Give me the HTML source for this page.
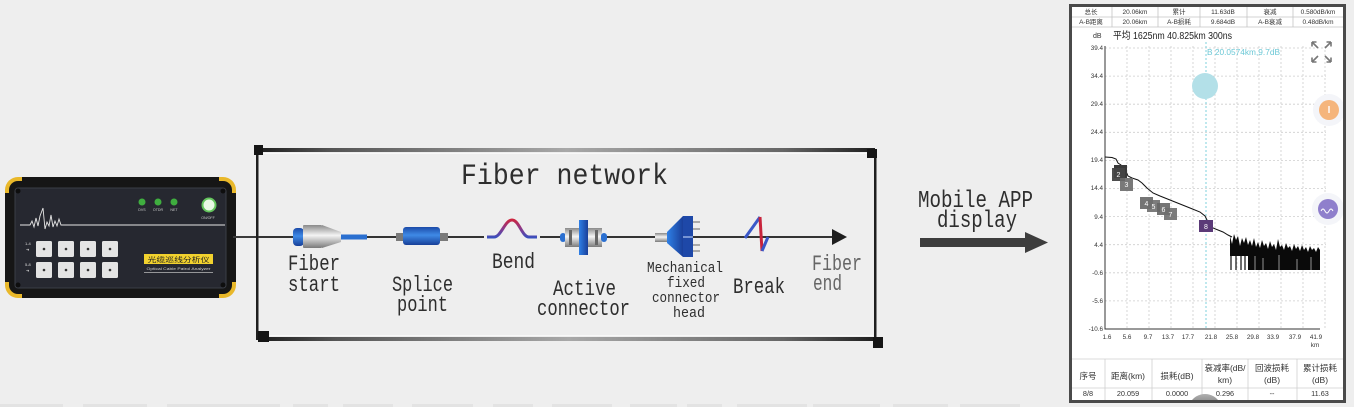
<!DOCTYPE html>
<html><head><meta charset="utf-8">
<style>
html,body{margin:0;padding:0;background:#eeeeee;width:1354px;height:407px;overflow:hidden;}
svg{display:block;}
.m{font-family:"Liberation Mono",monospace;fill:#2e2e2e;}
.p{font-family:"Liberation Sans","Noto Sans CJK SC",sans-serif;}
</style></head><body>
<svg width="1354" height="407" viewBox="0 0 1354 407" xmlns="http://www.w3.org/2000/svg" overflow="hidden">
<defs>
 <linearGradient id="frameH" x1="0" x2="1" y1="0" y2="0">
  <stop offset="0" stop-color="#1e1e1e"/>
  <stop offset="0.12" stop-color="#555"/>
  <stop offset="0.5" stop-color="#a8a8a8"/>
  <stop offset="0.85" stop-color="#666"/>
  <stop offset="1" stop-color="#1e1e1e"/>
 </linearGradient>
 <linearGradient id="silver" x1="0" x2="0" y1="0" y2="1">
  <stop offset="0" stop-color="#8a8a8a"/>
  <stop offset="0.45" stop-color="#f4f4f4"/>
  <stop offset="1" stop-color="#7a7a7a"/>
 </linearGradient>
 <linearGradient id="blueV" x1="0" x2="0" y1="0" y2="1">
  <stop offset="0" stop-color="#1b4aa8"/>
  <stop offset="0.45" stop-color="#3f8ae6"/>
  <stop offset="1" stop-color="#173f98"/>
 </linearGradient>
 <linearGradient id="blueH" x1="0" x2="1" y1="0" y2="0">
  <stop offset="0" stop-color="#2f80e6"/>
  <stop offset="1" stop-color="#1a3f9a"/>
 </linearGradient>
 <linearGradient id="bend" gradientUnits="userSpaceOnUse" x1="0" y1="219" x2="0" y2="238">
  <stop offset="0" stop-color="#d0243c"/>
  <stop offset="0.5" stop-color="#8a3a8a"/>
  <stop offset="1" stop-color="#3650c0"/>
 </linearGradient>
 <linearGradient id="blob" x1="0" x2="0" y1="0" y2="1">
  <stop offset="0" stop-color="#b0b0b0"/>
  <stop offset="1" stop-color="#8a8a8a"/>
 </linearGradient>
</defs>

<!-- faint bottom strip text remnants -->
<g fill="#e3e3e3">
 <rect x="0" y="404" width="63" height="3"/><rect x="83" y="404" width="64" height="3"/>
 <rect x="167" y="404" width="113" height="3"/><rect x="293" y="404" width="35" height="3"/>
 <rect x="343" y="404" width="50" height="3"/><rect x="412" y="404" width="61" height="3"/>
 <rect x="493" y="404" width="40" height="3"/><rect x="552" y="404" width="60" height="3"/>
 <rect x="630" y="404" width="47" height="3"/><rect x="687" y="404" width="35" height="3"/>
 <rect x="737" y="404" width="70" height="3"/><rect x="813" y="404" width="67" height="3"/>
 <rect x="893" y="404" width="55" height="3"/><rect x="960" y="404" width="60" height="3"/>
</g>

<!-- ===== Device ===== -->
<g>
 <rect x="5" y="177" width="231" height="121" rx="13" fill="#e9b82a"/>
 <rect x="22" y="177" width="197" height="121" fill="#161616"/>
 <rect x="5" y="193" width="231" height="89" fill="#161616"/>
 <rect x="9" y="181" width="223" height="113" rx="9" fill="#161616"/>
 <rect x="15" y="188" width="211" height="100" rx="3" fill="#262830" stroke="#3b3e46" stroke-width="1"/>
 <circle cx="18" cy="191" r="2.5" fill="#0e0e0e"/><circle cx="223" cy="191" r="2.5" fill="#0e0e0e"/>
 <circle cx="18" cy="285" r="2.5" fill="#0e0e0e"/><circle cx="223" cy="285" r="2.5" fill="#0e0e0e"/>
 <circle cx="142" cy="202" r="3.5" fill="#3fae3f"/><circle cx="158" cy="202" r="3.5" fill="#3fae3f"/><circle cx="174" cy="202" r="3.5" fill="#3fae3f"/>
 <g class="p" font-size="3.6" fill="#c8c8c8" text-anchor="middle">
  <text x="142" y="211">DVS</text><text x="158" y="211">OTDR</text><text x="174" y="211">NET</text>
  <text x="208" y="219">ON/OFF</text>
 </g>
 <circle cx="209" cy="205" r="6.5" fill="#e8f8e4" stroke="#63c45c" stroke-width="2"/>
 <polyline points="20,225 30,225 32,221 34,227 36,218 38,226 40,216 43,208 45,229 47,222 49,226 51,215 53,227 55,221 57,226 59,219 61,225 225,225" fill="none" stroke="#e6e6e6" stroke-width="0.9"/>
 <g fill="#e4e4e4">
  <rect x="36" y="241" width="16" height="16" rx="1.5"/><rect x="58" y="241" width="16" height="16" rx="1.5"/>
  <rect x="80" y="241" width="16" height="16" rx="1.5"/><rect x="102" y="241" width="16" height="16" rx="1.5"/>
  <rect x="36" y="262" width="16" height="16" rx="1.5"/><rect x="58" y="262" width="16" height="16" rx="1.5"/>
  <rect x="80" y="262" width="16" height="16" rx="1.5"/><rect x="102" y="262" width="16" height="16" rx="1.5"/>
 </g>
 <g fill="#333">
  <circle cx="44" cy="249" r="1.3"/><circle cx="66" cy="249" r="1.3"/><circle cx="88" cy="249" r="1.3"/><circle cx="110" cy="249" r="1.3"/>
  <circle cx="44" cy="270" r="1.3"/><circle cx="66" cy="270" r="1.3"/><circle cx="88" cy="270" r="1.3"/><circle cx="110" cy="270" r="1.3"/>
 </g>
 <g class="p" font-size="4" fill="#ddd">
  <text x="25" y="245">1-4</text><text x="26" y="251">➜</text>
  <text x="25" y="266">5-8</text><text x="26" y="272">➜</text>
 </g>
 <rect x="144" y="254" width="69" height="10" fill="#f2d22e"/>
 <text x="178.5" y="262" class="p" font-size="7" fill="#222" text-anchor="middle" textLength="62" lengthAdjust="spacingAndGlyphs">光缆巡线分析仪</text>
 <text x="178.5" y="270" class="p" font-size="3.8" fill="#d0d0d0" text-anchor="middle" textLength="64" lengthAdjust="spacingAndGlyphs">Optical Cable Patrol Analyzer</text>
 <line x1="144" y1="272.5" x2="213" y2="272.5" stroke="#bbb" stroke-width="0.7"/>
</g>
<line x1="233" y1="237" x2="258" y2="237" stroke="#3a3a3a" stroke-width="2"/>

<!-- ===== Fiber network box ===== -->
<g>
 <rect x="258" y="148" width="617" height="4" fill="url(#frameH)"/>
 <rect x="262" y="337" width="613" height="4" fill="url(#frameH)"/>
 <line x1="262" y1="153.5" x2="873" y2="153.5" stroke="#f8f8f8" stroke-width="1"/>
 <line x1="262" y1="335.5" x2="873" y2="335.5" stroke="#f8f8f8" stroke-width="1"/>
 <rect x="256" y="148" width="2.5" height="192" fill="#1e1e1e"/>
 <rect x="874" y="150" width="2.5" height="195" fill="#1e1e1e"/>
 <rect x="254" y="145" width="9" height="10" fill="#151515"/>
 <rect x="258" y="331" width="11" height="11" fill="#151515"/>
 <rect x="867" y="149" width="10" height="9" fill="#151515"/>
 <rect x="873" y="337" width="10" height="11" fill="#151515"/>
</g>
<text x="461" y="184" class="m" font-size="30" fill="#454545" textLength="207" lengthAdjust="spacingAndGlyphs">Fiber network</text>

<!-- fiber line -->
<line x1="258" y1="237" x2="836" y2="237" stroke="#333" stroke-width="2"/>
<polygon points="832,229 847,237 832,245" fill="#1e1e1e"/>

<!-- fiber start -->
<rect x="340" y="234.5" width="27" height="5" fill="#2a6fd0"/>
<rect x="293" y="228" width="11" height="18" rx="4" fill="url(#blueV)"/>
<rect x="303" y="225" width="19" height="23" rx="1" fill="url(#silver)"/>
<polygon points="322,225 341,232 341,242 322,248" fill="url(#silver)"/>

<!-- splice -->
<rect x="396" y="233" width="8" height="8" fill="#7a7a7a"/>
<rect x="440" y="233" width="8" height="8" fill="#7a7a7a"/>
<rect x="403" y="227" width="37" height="18" rx="3" fill="url(#blueV)"/>

<!-- bend -->
<rect x="484" y="232" width="56" height="9" fill="#eeeeee"/>
<path d="M487,237 L494,237 C501,237 505,220 512,220 C519,220 522,237 529,237 L537,237" fill="none" stroke="url(#bend)" stroke-width="3"/>

<!-- active connector -->
<rect x="560" y="233" width="6" height="9" rx="3" fill="#2a6fd0"/>
<rect x="565" y="228" width="14" height="19" fill="url(#silver)"/>
<rect x="569" y="230" width="3" height="15" fill="#666"/>
<rect x="579" y="220" width="9" height="35" fill="url(#blueH)"/>
<rect x="588" y="228" width="14" height="19" fill="url(#silver)"/>
<rect x="595" y="230" width="3" height="15" fill="#666"/>
<rect x="601" y="233" width="6" height="9" rx="3" fill="#2a6fd0"/>

<!-- mechanical connector -->
<rect x="655" y="233" width="12" height="9" fill="url(#silver)"/>
<polygon points="667,232 683,216 683,257 667,243" fill="url(#blueH)"/>
<rect x="683" y="216" width="10" height="41" fill="#1e48a8"/>
<line x1="683" y1="237" x2="693" y2="237" stroke="#cfe0ff" stroke-width="1"/>
<g stroke="#999" stroke-width="1.6">
 <line x1="693" y1="222" x2="700" y2="222"/><line x1="693" y1="229" x2="700" y2="229"/>
 <line x1="693" y1="245" x2="700" y2="245"/><line x1="693" y1="251" x2="700" y2="251"/>
</g>

<!-- break -->
<line x1="745" y1="238" x2="760" y2="217" stroke="#3a58c8" stroke-width="3"/>
<line x1="760" y1="217" x2="762" y2="251" stroke="#c8243c" stroke-width="3"/>
<line x1="762" y1="251" x2="768" y2="237" stroke="#3a58c8" stroke-width="3"/>

<!-- labels -->
<g class="m" font-size="22">
 <text x="288" y="270" textLength="52" lengthAdjust="spacingAndGlyphs">Fiber</text>
 <text x="288" y="291" textLength="52" lengthAdjust="spacingAndGlyphs">start</text>
 <text x="392" y="291" textLength="61" lengthAdjust="spacingAndGlyphs">Splice</text>
 <text x="397" y="311" textLength="51" lengthAdjust="spacingAndGlyphs">point</text>
 <text x="492" y="268" textLength="43" lengthAdjust="spacingAndGlyphs">Bend</text>
 <text x="553" y="295" textLength="63" lengthAdjust="spacingAndGlyphs">Active</text>
 <text x="537" y="315" textLength="93" lengthAdjust="spacingAndGlyphs">connector</text>
 <text x="733" y="293" textLength="52" lengthAdjust="spacingAndGlyphs">Break</text>
 <text x="812" y="270" textLength="50" lengthAdjust="spacingAndGlyphs" fill="#666">Fiber</text>
 <text x="813" y="290" textLength="29" lengthAdjust="spacingAndGlyphs" fill="#666">end</text>
</g>
<g class="m" font-size="15">
 <text x="647" y="272" textLength="76" lengthAdjust="spacingAndGlyphs">Mechanical</text>
 <text x="667" y="287" textLength="38" lengthAdjust="spacingAndGlyphs">fixed</text>
 <text x="652" y="302" textLength="68" lengthAdjust="spacingAndGlyphs">connector</text>
 <text x="673" y="317" textLength="32" lengthAdjust="spacingAndGlyphs">head</text>
</g>

<!-- Mobile APP arrow -->
<g class="m" font-size="24" fill="#333">
 <text x="918" y="207" textLength="115" lengthAdjust="spacingAndGlyphs">Mobile APP</text>
 <text x="937" y="227" textLength="80" lengthAdjust="spacingAndGlyphs">display</text>
</g>
<rect x="920" y="238" width="106" height="9" fill="#3d3d3d"/>
<polygon points="1025,232 1048,242.5 1025,253" fill="#3d3d3d"/>

<!-- ===== Phone ===== -->
<rect x="1070" y="5" width="275" height="397" fill="#ffffff"/>
<!-- top table -->
<g stroke="#c4c4c4" stroke-width="0.8" fill="none">
 <line x1="1071" y1="17" x2="1344" y2="17"/><line x1="1071" y1="27" x2="1344" y2="27"/>
 <line x1="1112" y1="6" x2="1112" y2="27"/><line x1="1158" y1="6" x2="1158" y2="27"/>
 <line x1="1200" y1="6" x2="1200" y2="27"/><line x1="1247" y1="6" x2="1247" y2="27"/>
 <line x1="1293" y1="6" x2="1293" y2="27"/>
</g>
<g class="p" font-size="6.5" fill="#333" text-anchor="middle">
 <text x="1091" y="14">总长</text><text x="1135" y="14">20.06km</text><text x="1179" y="14">累计</text>
 <text x="1223" y="14">11.63dB</text><text x="1270" y="14">衰减</text><text x="1318" y="14">0.580dB/km</text>
 <text x="1091" y="24">A-B距离</text><text x="1135" y="24">20.06km</text><text x="1179" y="24">A-B损耗</text>
 <text x="1223" y="24">9.684dB</text><text x="1270" y="24">A-B衰减</text><text x="1318" y="24">0.48dB/km</text>
</g>
<text x="1093" y="38" class="p" font-size="7" fill="#333">dB</text>
<text x="1113" y="39" class="p" font-size="10" fill="#222" textLength="119" lengthAdjust="spacingAndGlyphs">平均 1625nm 40.825km 300ns</text>

<!-- grid -->
<g stroke="#cdcdcd" stroke-width="0.8" stroke-dasharray="2,2" fill="none">
 <line x1="1105" y1="48" x2="1326" y2="48"/><line x1="1105" y1="76.1" x2="1326" y2="76.1"/>
 <line x1="1105" y1="104.2" x2="1326" y2="104.2"/><line x1="1105" y1="132.3" x2="1326" y2="132.3"/>
 <line x1="1105" y1="160.4" x2="1326" y2="160.4"/><line x1="1105" y1="188.5" x2="1326" y2="188.5"/>
 <line x1="1105" y1="216.6" x2="1326" y2="216.6"/><line x1="1105" y1="244.7" x2="1326" y2="244.7"/>
 <line x1="1105" y1="272.8" x2="1326" y2="272.8"/><line x1="1105" y1="300.9" x2="1326" y2="300.9"/>
 <line x1="1127" y1="46" x2="1127" y2="329"/><line x1="1149" y1="46" x2="1149" y2="329"/>
 <line x1="1171" y1="46" x2="1171" y2="329"/><line x1="1193" y1="46" x2="1193" y2="329"/>
 <line x1="1215" y1="46" x2="1215" y2="329"/><line x1="1237" y1="46" x2="1237" y2="329"/>
 <line x1="1259" y1="46" x2="1259" y2="329"/><line x1="1281" y1="46" x2="1281" y2="329"/>
 <line x1="1303" y1="46" x2="1303" y2="329"/><line x1="1325" y1="46" x2="1325" y2="329"/>
</g>
<line x1="1206" y1="42" x2="1206" y2="329" stroke="#7fd0dc" stroke-width="1" stroke-dasharray="2,2"/>
<line x1="1105" y1="46" x2="1105" y2="329.5" stroke="#333" stroke-width="1"/>
<line x1="1105" y1="329" x2="1320" y2="329" stroke="#333" stroke-width="1"/>
<g class="p" font-size="6.3" fill="#333" text-anchor="end">
 <text x="1103" y="50">39.4</text><text x="1103" y="78">34.4</text><text x="1103" y="106">29.4</text>
 <text x="1103" y="134">24.4</text><text x="1103" y="162">19.4</text><text x="1103" y="190">14.4</text>
 <text x="1103" y="219">9.4</text><text x="1103" y="247">4.4</text><text x="1103" y="275">-0.6</text>
 <text x="1103" y="303">-5.6</text><text x="1103" y="331">-10.6</text>
</g>
<g class="p" font-size="6.3" fill="#333" text-anchor="middle">
 <text x="1107" y="339">1.6</text><text x="1127" y="339">5.6</text><text x="1148" y="339">9.7</text>
 <text x="1168" y="339">13.7</text><text x="1188" y="339">17.7</text><text x="1211" y="339">21.8</text>
 <text x="1232" y="339">25.8</text><text x="1253" y="339">29.8</text><text x="1273" y="339">33.9</text>
 <text x="1295" y="339">37.9</text><text x="1316" y="339">41.9</text><text x="1315" y="347">km</text>
</g>
<text x="1207" y="55" class="p" font-size="8.5" fill="#6cc8d6" textLength="73" lengthAdjust="spacingAndGlyphs">B 20.0574km,9.7dB</text>
<circle cx="1205" cy="86" r="13" fill="#b3e0e8"/>

<!-- expand icon -->
<g stroke="#777" stroke-width="1.6" fill="none">
 <path d="M1312,42 L1318,48 M1312,42 L1312,46.5 M1312,42 L1316.5,42"/>
 <path d="M1331,42 L1325,48 M1331,42 L1331,46.5 M1331,42 L1326.5,42"/>
 <path d="M1312,62 L1318,56 M1312,62 L1312,57.5 M1312,62 L1316.5,62"/>
 <path d="M1331,62 L1325,56 M1331,62 L1331,57.5 M1331,62 L1326.5,62"/>
</g>

<!-- floating buttons -->
<circle cx="1329" cy="110" r="16" fill="#f4f5f9"/>
<circle cx="1329" cy="110" r="10" fill="#f5b57c"/>
<line x1="1329" y1="106" x2="1329" y2="113" stroke="#fff" stroke-width="1.4"/>
<circle cx="1328" cy="209" r="16" fill="#f4f5f9"/>
<circle cx="1328" cy="209" r="10" fill="#8f7fcc"/>
<path d="M1321,211 q2,-4 4,0 t4,0 t4,0" fill="none" stroke="#fff" stroke-width="0.9"/>

<!-- trace -->
<polyline points="1105,157 1112,157.5 1116,159 1118,163 1121,165 1123,168 1126,171 1128,176 1132,178 1138,180 1142,183 1147,188 1153,193 1160,196 1170,200 1180,204 1190,208 1200,212 1205,216 1208,222 1213,228 1218,230 1223,232 1228,235 1232,237" fill="none" stroke="#111" stroke-width="1"/>
<polygon fill="#0a0a0a" points="1230,236 1232,244 1234,234 1236,240 1238,236 1240,246 1242,238 1244,243 1246,237 1248,245 1250,240 1252,246 1254,238 1256,247 1258,242 1260,248 1262,240 1264,246 1266,243 1268,249 1270,241 1272,247 1274,244 1276,250 1278,239 1280,247 1282,245 1284,250 1286,243 1288,248 1290,246 1292,251 1294,244 1296,249 1298,246 1300,251 1302,245 1304,250 1306,247 1308,252 1310,246 1312,250 1314,248 1316,252 1318,247 1320,250 1320,270 1248,270 1248,256 1230,256"/>
<g stroke="#0a0a0a" stroke-width="1.2">
 <line x1="1231" y1="250" x2="1231" y2="270"/><line x1="1236" y1="250" x2="1236" y2="270"/>
 <line x1="1241" y1="250" x2="1241" y2="270"/><line x1="1245" y1="250" x2="1245" y2="270"/>
</g>
<g stroke="#ffffff" stroke-width="0.8" opacity="0.7">
 <line x1="1255" y1="256" x2="1255" y2="270"/><line x1="1263" y1="258" x2="1263" y2="270"/>
 <line x1="1279" y1="255" x2="1279" y2="270"/><line x1="1297" y1="259" x2="1297" y2="270"/>
 <line x1="1311" y1="257" x2="1311" y2="270"/>
</g>

<!-- event markers -->
<rect x="1114" y="165" width="13" height="13" fill="#3a3a3a"/>
<rect x="1112" y="168" width="13" height="13" fill="#444" opacity="0.95"/>
<rect x="1120" y="178" width="13" height="13" fill="#6a6a6a" opacity="0.9"/>
<rect x="1140" y="197" width="13" height="12" fill="#666" opacity="0.9"/>
<rect x="1147" y="200" width="13" height="12" fill="#6e6e6e" opacity="0.9"/>
<rect x="1157" y="203" width="13" height="12" fill="#666" opacity="0.9"/>
<rect x="1164" y="208" width="13" height="12" fill="#6e6e6e" opacity="0.9"/>
<rect x="1199" y="220" width="14" height="12" fill="#5b3a78"/>
<g class="p" font-size="7" fill="#fff" text-anchor="middle">
 <text x="1118.5" y="177">2</text><text x="1126.5" y="187">3</text><text x="1146.5" y="206">4</text>
 <text x="1153.5" y="209">5</text><text x="1163.5" y="212">6</text><text x="1170.5" y="217">7</text>
 <text x="1206" y="229">8</text>
</g>

<!-- bottom table -->
<line x1="1071" y1="359" x2="1344" y2="359" stroke="#cfcfcf" stroke-width="0.8"/>
<line x1="1071" y1="388" x2="1344" y2="388" stroke="#cfcfcf" stroke-width="0.8"/>
<g stroke="#cfcfcf" stroke-width="0.8">
 <line x1="1105" y1="359" x2="1105" y2="401"/><line x1="1152" y1="359" x2="1152" y2="401"/>
 <line x1="1202" y1="359" x2="1202" y2="401"/><line x1="1248" y1="359" x2="1248" y2="401"/>
 <line x1="1297" y1="359" x2="1297" y2="401"/>
</g>
<path d="M1190,403 A17,17 0 0 1 1220,403 Z" fill="url(#blob)"/>
<g class="p" font-size="8.5" fill="#333" text-anchor="middle">
 <text x="1088" y="379">序号</text><text x="1128" y="379">距离(km)</text><text x="1177" y="379">损耗(dB)</text>
 <text x="1225" y="371">衰减率(dB/</text><text x="1225" y="383">km)</text>
 <text x="1272" y="371">回波损耗</text><text x="1272" y="383">(dB)</text>
 <text x="1320" y="371">累计损耗</text><text x="1320" y="383">(dB)</text>
</g>
<g class="p" font-size="7.3" fill="#333" text-anchor="middle">
 <text x="1088" y="396">8/8</text><text x="1128" y="396">20.059</text><text x="1177" y="396">0.0000</text>
 <text x="1225" y="396">0.296</text><text x="1272" y="396">--</text><text x="1320" y="396">11.63</text>
</g>
<!-- phone frame -->
<rect x="1070.5" y="5.5" width="274" height="396" fill="none" stroke="#4a4a4a" stroke-width="3"/>
</svg>
</body></html>
